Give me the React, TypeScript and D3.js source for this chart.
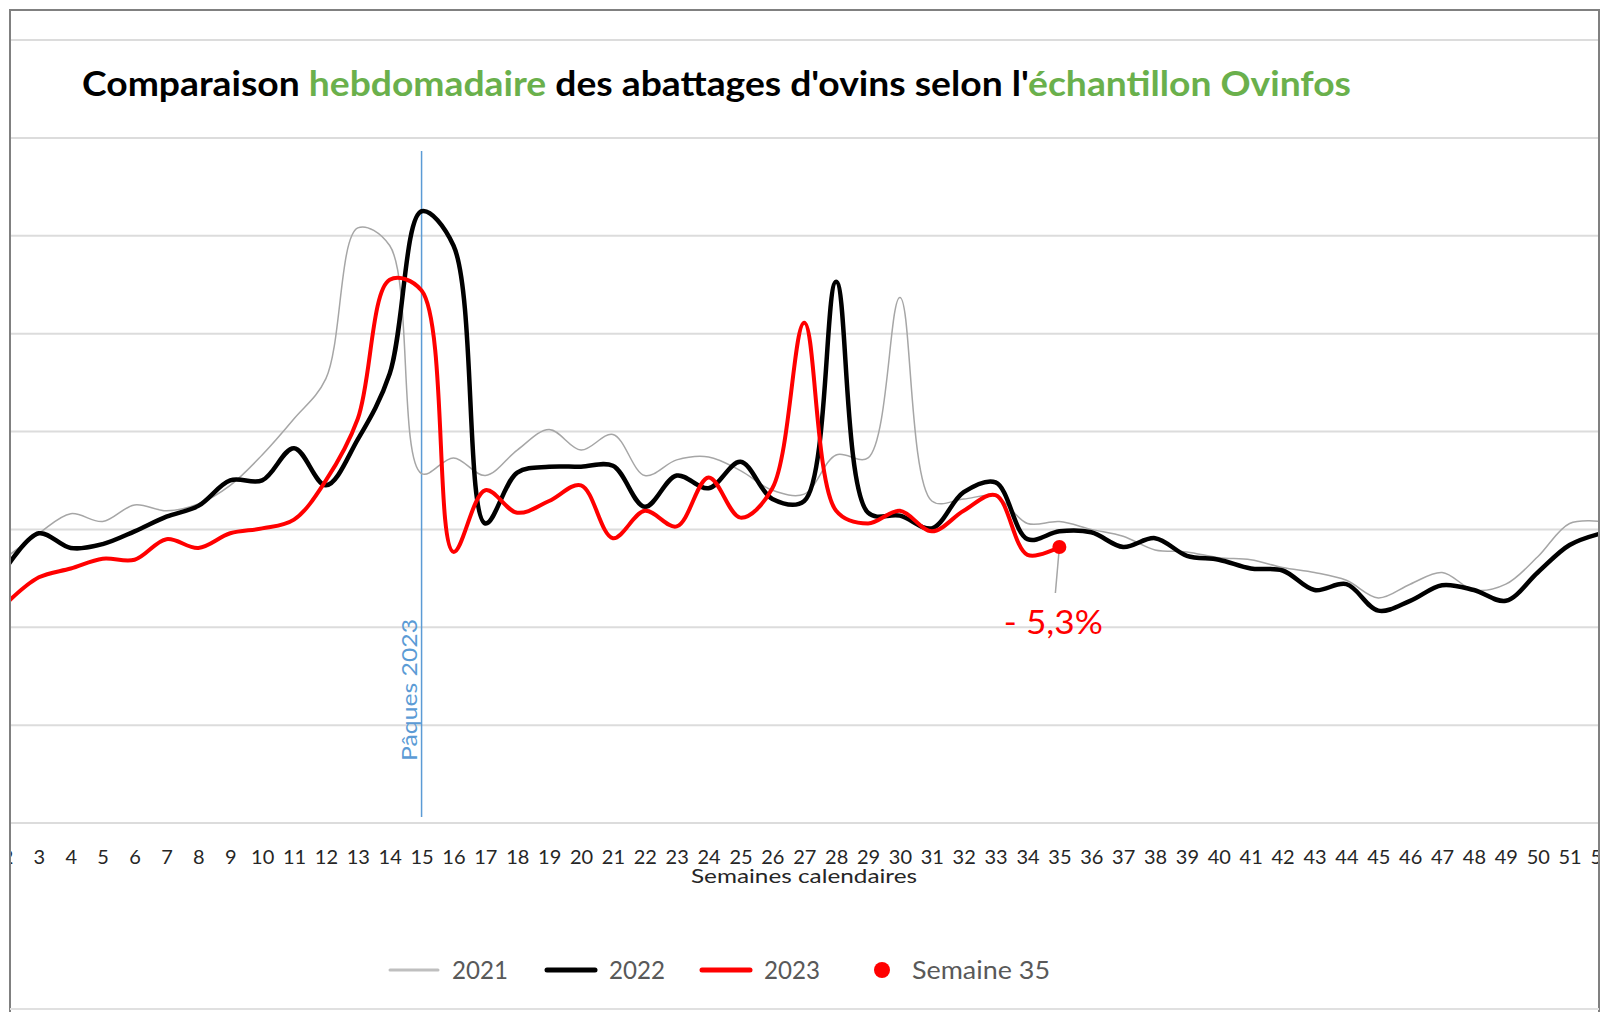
import React, { useEffect, useRef } from 'react';
import * as d3 from 'd3';

// semaines calendaires affichées (la 2 et la 52 sont coupées par le cadre)
const weeks = [2, 3, 4, 5, 6, 7, 8, 9, 10, 11, 12, 13, 14, 15, 16, 17, 18, 19, 20, 21, 22, 23, 24, 25, 26, 27,
  28, 29, 30, 31, 32, 33, 34, 35, 36, 37, 38, 39, 40, 41, 42, 43, 44, 45, 46, 47, 48, 49, 50, 51, 52];

// abattages hebdomadaires (unités relatives)
const s2021 = [272, 296, 316, 308, 325, 319, 326, 345, 376, 413, 454, 608, 590, 357, 373, 355, 381, 402, 381, 397,
  355, 371, 374, 360, 340, 336, 376, 373, 537, 329, 331, 334, 306, 308, 300, 293, 279, 277, 271, 269,
  261, 256, 248, 230, 244, 256, 238, 244, 272, 306, 308];
const s2022 = [262, 296, 281, 285, 298, 313, 324, 350, 350, 383, 345, 392, 459, 625, 590, 306, 358, 364, 364, 365,
  323, 355, 342, 369, 331, 329, 553, 317, 314, 301, 338, 348, 290, 298, 297, 282, 291, 273, 269, 260,
  258, 238, 244, 217, 227, 243, 238, 227, 256, 284, 296];
const s2023 = [225, 251, 260, 270, 269, 290, 281, 296, 301, 310, 350, 413, 555, 544, 277, 340, 317, 329, 345, 291,
  319, 303, 353, 312, 342, 511, 319, 306, 319, 298, 319, 335, 274, 282];

const gridValues = [0, 100, 200, 300, 400, 500, 600, 700, 800];
const easterWeek = 15;
const markerWeek = 35;
const markerLabel = '- 5,3%';

const W = 1602, H = 1012;
const FONT = 'Lato, "Open Sans", sans-serif';

export default function App() {
  const ref = useRef<SVGSVGElement>(null);

  useEffect(() => {
    const svg = d3.select(ref.current);
    svg.selectAll('*').remove();

    var x = d3.scaleLinear().domain([2, 52]).range([7, 7 + 50 * 31.89]);
    var y = d3.scaleLinear().domain([0, 800]).range([823, 40]);

    svg.append('rect').attr('width', W).attr('height', H).attr('fill', '#fff');

    svg.append('defs').append('clipPath').attr('id', 'frame')
      .append('rect').attr('x', 11).attr('y', 11).attr('width', 1587).attr('height', 1000);

    var g = svg.append('g').attr('clip-path', 'url(#frame)');

    // grille horizontale
    g.selectAll('.grid').data(gridValues).enter().append('line')
      .attr('x1', 10).attr('x2', 1600)
      .attr('y1', d => y(d)).attr('y2', d => y(d))
      .attr('stroke', '#dcdcdc').attr('stroke-width', 2);

    // étiquettes des semaines
    var axis = d3.axisBottom(x).tickValues(weeks).tickSize(0).tickFormat(d3.format('d'));
    var ax = g.append('g').attr('transform', 'translate(0,849)').call(axis);
    ax.select('.domain').remove();
    ax.selectAll('text')
      .attr('font-family', FONT).attr('font-size', 20).attr('fill', '#262626').attr('dy', '0.6em');

    g.append('text')
      .attr('x', 804).attr('y', 883)
      .attr('text-anchor', 'middle')
      .attr('font-family', FONT).attr('font-size', 20).attr('fill', '#262626')
      .attr('textLength', 226).attr('lengthAdjust', 'spacingAndGlyphs')
      .text('Semaines calendaires');

    // Pâques
    g.append('line')
      .attr('x1', x(easterWeek)).attr('x2', x(easterWeek))
      .attr('y1', 151).attr('y2', 817)
      .attr('stroke', '#5b9bd5').attr('stroke-width', 1.5);
    g.append('text')
      .attr('transform', 'translate(' + (x(easterWeek) - 5) + ',690) rotate(-90)')
      .attr('text-anchor', 'middle')
      .attr('font-family', FONT).attr('font-size', 22).attr('fill', '#5b9bd5')
      .attr('textLength', 142).attr('lengthAdjust', 'spacingAndGlyphs')
      .text('Pâques 2023');

    var line = d3.line<number>()
      .x((d, i) => x(weeks[i]))
      .y(d => y(d))
      .curve(d3.curveCatmullRom.alpha(0.5));

    g.append('path').attr('d', line(s2021)).attr('fill', 'none')
      .attr('stroke', '#a6a6a6').attr('stroke-width', 1.5);
    g.append('path').attr('d', line(s2022)).attr('fill', 'none')
      .attr('stroke', '#000').attr('stroke-width', 4.5).attr('stroke-linejoin', 'round');
    g.append('path').attr('d', line(s2023)).attr('fill', 'none')
      .attr('stroke', '#ff0000').attr('stroke-width', 4).attr('stroke-linejoin', 'round');

    // semaine 35
    var mx = x(markerWeek), my = y(s2023[weeks.indexOf(markerWeek)]);
    g.append('line')
      .attr('x1', mx).attr('y1', my).attr('x2', mx - 4).attr('y2', my + 46)
      .attr('stroke', '#a6a6a6').attr('stroke-width', 1.5);
    g.append('circle').attr('cx', mx).attr('cy', my).attr('r', 7).attr('fill', '#ff0000');
    g.append('text')
      .attr('x', mx - 6).attr('y', my + 87)
      .attr('text-anchor', 'middle')
      .attr('font-family', FONT).attr('font-size', 32).attr('fill', '#ff0000')
      .attr('textLength', 99).attr('lengthAdjust', 'spacingAndGlyphs')
      .text(markerLabel);

    // titre
    var title = svg.append('text')
      .attr('x', 82).attr('y', 96)
      .attr('font-family', FONT).attr('font-size', 34).attr('font-weight', 'bold')
      .attr('fill', '#000')
      .attr('textLength', 1269).attr('lengthAdjust', 'spacingAndGlyphs');
    title.append('tspan').text('Comparaison ');
    title.append('tspan').attr('fill', '#6ab04c').text('hebdomadaire');
    title.append('tspan').text(" des abattages d'ovins selon l'");
    title.append('tspan').attr('fill', '#6ab04c').text('échantillon Ovinfos');

    // légende
    var legend = [
      { label: '2021', color: '#bfbfbf', w: 3, x: 390 },
      { label: '2022', color: '#000', w: 5, x: 547 },
      { label: '2023', color: '#ff0000', w: 5, x: 702 },
    ];
    var lg = svg.append('g').attr('transform', 'translate(0,970)');
    legend.forEach(d => {
      lg.append('line').attr('x1', d.x).attr('x2', d.x + 48)
        .attr('stroke', d.color).attr('stroke-width', d.w).attr('stroke-linecap', 'round');
      lg.append('text').attr('x', d.x + 62).attr('y', 9)
        .attr('font-family', FONT).attr('font-size', 25).attr('fill', '#595959')
        .attr('textLength', 56).attr('lengthAdjust', 'spacingAndGlyphs')
        .text(d.label);
    });
    lg.append('circle').attr('cx', 882).attr('cy', 0).attr('r', 8).attr('fill', '#ff0000');
    lg.append('text').attr('x', 912).attr('y', 9)
      .attr('font-family', FONT).attr('font-size', 25).attr('fill', '#595959')
      .attr('textLength', 138).attr('lengthAdjust', 'spacingAndGlyphs')
      .text('Semaine 35');

    // cadre
    svg.append('path')
      .attr('d', 'M10,1012 V10 H1599 V1012')
      .attr('fill', 'none').attr('stroke', '#808080').attr('stroke-width', 2);
    svg.append('line').attr('x1', 10).attr('x2', 1599).attr('y1', 1009).attr('y2', 1009)
      .attr('stroke', '#e0e0e0').attr('stroke-width', 2);
  }, []);

  return (
    <svg ref={ref} width={W} height={H}
      style={{ position: 'absolute', left: 0, top: 0, display: 'block' }} />
  );
}
